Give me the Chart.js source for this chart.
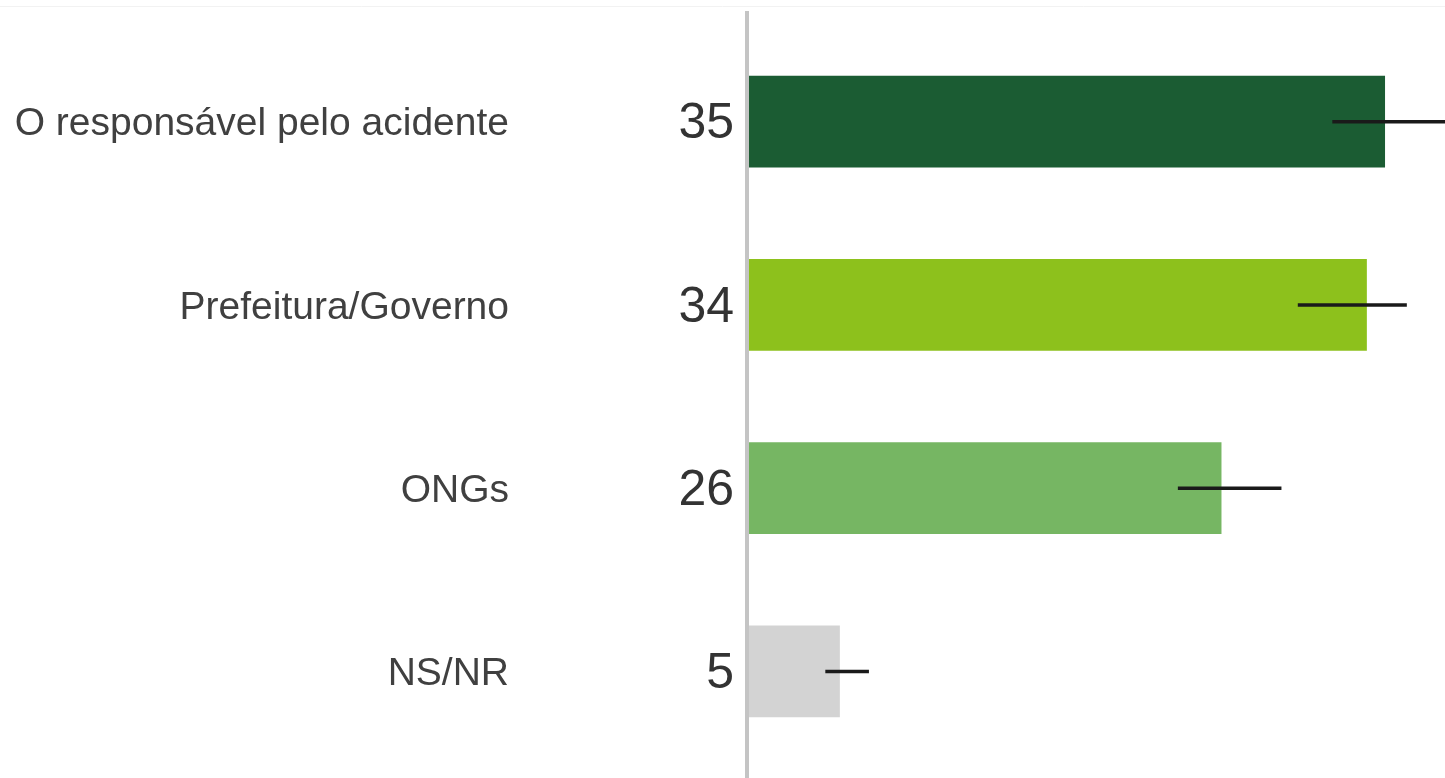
<!DOCTYPE html>
<html lang="pt">
<head>
    <meta charset="UTF-8">
    <title>Responsáveis</title>
    <script src="https://cdn.jsdelivr.net/npm/chart.js"></script>
    <style>
        html, body { margin: 0; padding: 0; background: #fff; }
        .wrap { width: 1445px; height: 778px; }
    </style>
</head>
<body>
<div class="wrap"><canvas id="chart"></canvas></div>
<script>
    const categories = ['O responsável pelo acidente', 'Prefeitura/Governo', 'ONGs', 'NS/NR'];
    const values = [35, 34, 26, 5];
    const errLow = [32.1, 30.2, 23.6, 4.2];
    const errHigh = [38.6, 36.2, 29.3, 6.6];
    const barColors = ['#1b5c33', '#8dc11c', '#76b663', '#d3d3d3'];

    // axis line, value labels and error bars
    const extras = {
        id: 'extras',
        beforeDraw(chart) {
            const ctx = chart.ctx;
            ctx.save();
            ctx.strokeStyle = '#f2f2f2';
            ctx.lineWidth = 1;
            ctx.beginPath();
            ctx.moveTo(0, 6.5);
            ctx.lineTo(chart.width, 6.5);
            ctx.stroke();
            ctx.restore();
        },
        afterDatasetsDraw(chart) {
            const ctx = chart.ctx;
            const x = chart.scales.x;
            const y = chart.scales.y;
            const left = chart.chartArea.left;
            ctx.save();
            ctx.strokeStyle = '#c4c4c4';
            ctx.lineWidth = 4;
            ctx.beginPath();
            ctx.moveTo(left - 2, 11);
            ctx.lineTo(left - 2, chart.height);
            ctx.stroke();

            ctx.strokeStyle = '#1a1a1a';
            ctx.lineWidth = 3.5;
            ctx.lineCap = 'butt';
            errLow.forEach((lo, i) => {
                const py = y.getPixelForValue(i);
                ctx.beginPath();
                ctx.moveTo(x.getPixelForValue(lo), py);
                ctx.lineTo(x.getPixelForValue(errHigh[i]), py);
                ctx.stroke();
            });

            ctx.fillStyle = '#333333';
            ctx.font = '50px "Liberation Sans", Arial, sans-serif';
            ctx.textAlign = 'right';
            ctx.textBaseline = 'middle';
            values.forEach((v, i) => {
                ctx.fillText(String(v), left - 15, y.getPixelForValue(i) + 3);
            });
            ctx.restore();
        }
    };

    new Chart(document.getElementById('chart'), {
        type: 'bar',
        data: {
            labels: categories,
            datasets: [{
                data: values,
                backgroundColor: barColors,
                borderWidth: 0,
                barPercentage: 0.5,
                categoryPercentage: 1.0
            }]
        },
        options: {
            indexAxis: 'y',
            responsive: true,
            maintainAspectRatio: false,
            animation: false,
            layout: { padding: { top: 30, bottom: 15, left: 0, right: 0 } },
            scales: {
                x: {
                    min: 0,
                    max: 38.3,
                    display: false
                },
                y: {
                    grid: { display: false, drawTicks: false },
                    border: { display: false },
                    afterFit(scale) {
                        scale.width = 749;
                        scale.paddingTop = 0;
                        scale.paddingBottom = 0;
                    },
                    ticks: {
                        padding: 240,
                        labelOffset: 3,
                        color: '#404040',
                        font: { family: '"Liberation Sans", Arial, sans-serif', size: 39 }
                    }
                }
            },
            plugins: {
                legend: { display: false },
                tooltip: { enabled: false }
            }
        },
        plugins: [extras]
    });
</script>
</body>
</html>
